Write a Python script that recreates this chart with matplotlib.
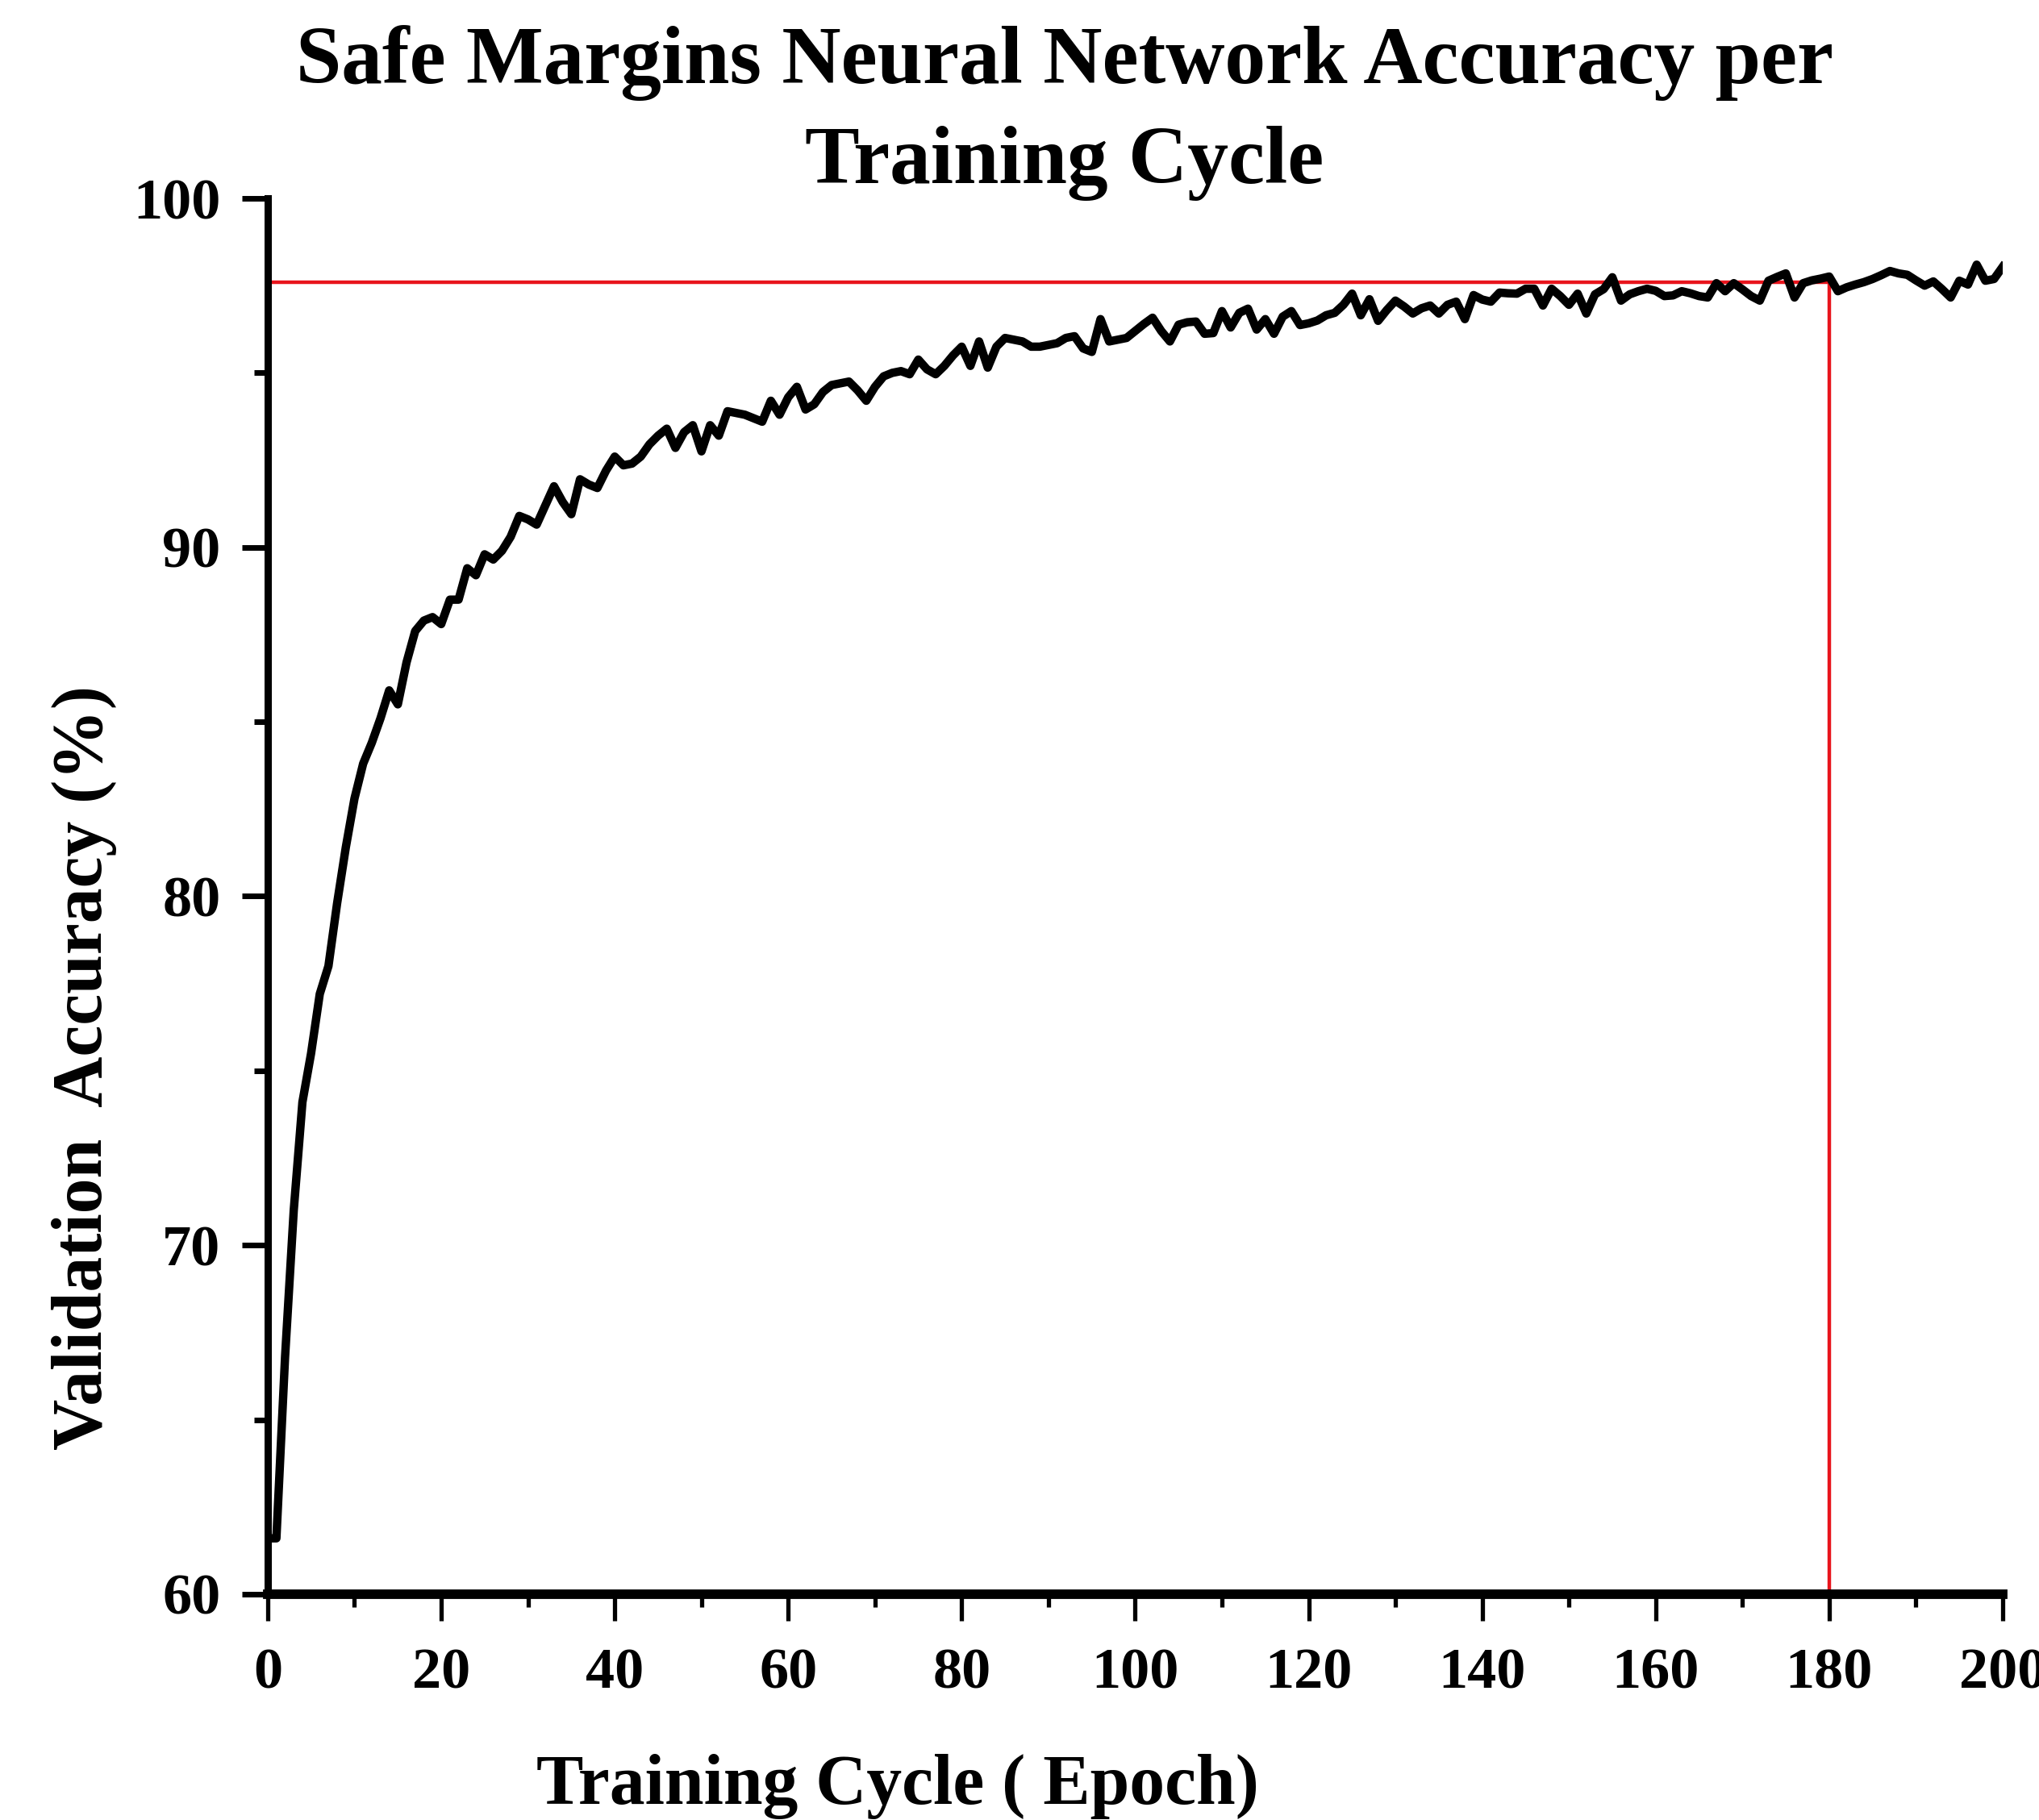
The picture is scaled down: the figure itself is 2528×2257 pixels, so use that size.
import matplotlib
matplotlib.use("Agg")
import matplotlib.pyplot as plt
from matplotlib.ticker import MultipleLocator

# validation accuracy (%) per epoch
epochs = list(range(0, 201))
accuracy = [
    61.6, 61.6, 66.8, 71.0, 74.1, 75.5, 77.2, 78.0, 79.8, 81.4,
    82.8, 83.8, 84.4, 85.1, 85.9, 85.5, 86.7, 87.6, 87.9, 88.0,
    87.8, 88.5, 88.5, 89.4, 89.2, 89.8, 89.65, 89.9, 90.3, 90.9,
    90.8, 90.65, 91.2, 91.75, 91.3, 90.95, 91.95, 91.8, 91.7, 92.2,
    92.6, 92.35, 92.4, 92.6, 92.95, 93.2, 93.4, 92.85, 93.3, 93.5,
    92.75, 93.5, 93.2, 93.9, 93.85, 93.8, 93.7, 93.6, 94.2, 93.8,
    94.3, 94.6, 93.95, 94.1, 94.45, 94.65, 94.7, 94.75, 94.5, 94.2,
    94.6, 94.9, 95.0, 95.05, 94.96, 95.38, 95.1, 94.96, 95.2, 95.5,
    95.75, 95.2, 95.9, 95.15, 95.75, 96.0, 95.95, 95.9, 95.75, 95.75,
    95.8, 95.85, 96.0, 96.05, 95.7, 95.6, 96.54, 95.9, 95.95, 96.0,
    96.2, 96.4, 96.58, 96.2, 95.9, 96.38, 96.45, 96.47, 96.12, 96.14,
    96.77, 96.3, 96.72, 96.84, 96.24, 96.54, 96.12, 96.61, 96.77, 96.37,
    96.42, 96.5, 96.65, 96.72, 96.95, 97.27, 96.65, 97.11, 96.49, 96.8,
    97.07, 96.9, 96.7, 96.85, 96.93, 96.7, 96.95, 97.04, 96.54, 97.23,
    97.1, 97.04, 97.3, 97.28, 97.27, 97.41, 97.41, 96.93, 97.41, 97.2,
    96.95, 97.27, 96.7, 97.25, 97.4, 97.74, 97.07, 97.25, 97.34, 97.41,
    97.35, 97.2, 97.22, 97.34, 97.28, 97.2, 97.16, 97.57, 97.34, 97.57,
    97.39, 97.2, 97.07, 97.64, 97.75, 97.85, 97.16, 97.57, 97.65, 97.7,
    97.76, 97.34, 97.45, 97.53, 97.6, 97.69, 97.8, 97.92, 97.85, 97.81,
    97.65, 97.5, 97.62, 97.4, 97.16, 97.64, 97.53, 98.1, 97.64, 97.69,
    98.04,
]

# red marker lines: plateau level and the epoch it is reached
mark_epoch = 180
mark_acc = 97.6

plt.rcParams["font.family"] = ["Liberation Serif", "DejaVu Serif"]
plt.rcParams["font.weight"] = "bold"

fig = plt.figure(figsize=(25.28, 22.57), dpi=100)
ax = fig.add_axes([0.1313, 0.1241, 0.8509, 0.7669])

ax.plot([0, mark_epoch], [mark_acc, mark_acc], color="#e8141c", lw=3.2, zorder=2)
ax.plot([mark_epoch, mark_epoch], [60, mark_acc], color="#e8141c", lw=3.2, zorder=2)
ax.plot(epochs, accuracy, color="black", lw=7.5, solid_joinstyle="round", zorder=3)

ax.set_xlim(0, 200)
ax.set_ylim(60, 100)
ax.xaxis.set_major_locator(MultipleLocator(20))
ax.xaxis.set_minor_locator(MultipleLocator(10))
ax.yaxis.set_major_locator(MultipleLocator(10))
ax.yaxis.set_minor_locator(MultipleLocator(5))

for side in ("top", "right"):
    ax.spines[side].set_visible(False)
ax.spines["left"].set_linewidth(6.5)
ax.spines["bottom"].set_linewidth(8.5)

ax.tick_params(axis="x", which="major", direction="out", length=24, width=3.8,
               pad=24, labelsize=52)
ax.tick_params(axis="x", which="minor", direction="out", length=11.5, width=3.8)
ax.tick_params(axis="y", which="major", direction="out", length=23, width=5,
               pad=19, labelsize=52)
ax.tick_params(axis="y", which="minor", direction="out", length=12, width=5)
for lab in ax.get_xticklabels() + ax.get_yticklabels():
    lab.set_fontweight("bold")

fig.text(0.522, 0.9655, "Safe Margins Neural Network Accuracy per",
         ha="center", va="center", fontsize=73, fontweight="bold")
fig.text(0.522, 0.9105, "Training Cycle",
         ha="center", va="center", fontsize=73, fontweight="bold")
fig.text(0.0415, 0.4135, "Validation  Accuracy (%)", rotation=90,
         ha="center", va="center", fontsize=63, fontweight="bold")
fig.text(0.4403, 0.0185, "Training Cycle ( Epoch)",
         ha="center", va="center", fontsize=63, fontweight="bold")

fig.savefig("out.png", dpi=100)
